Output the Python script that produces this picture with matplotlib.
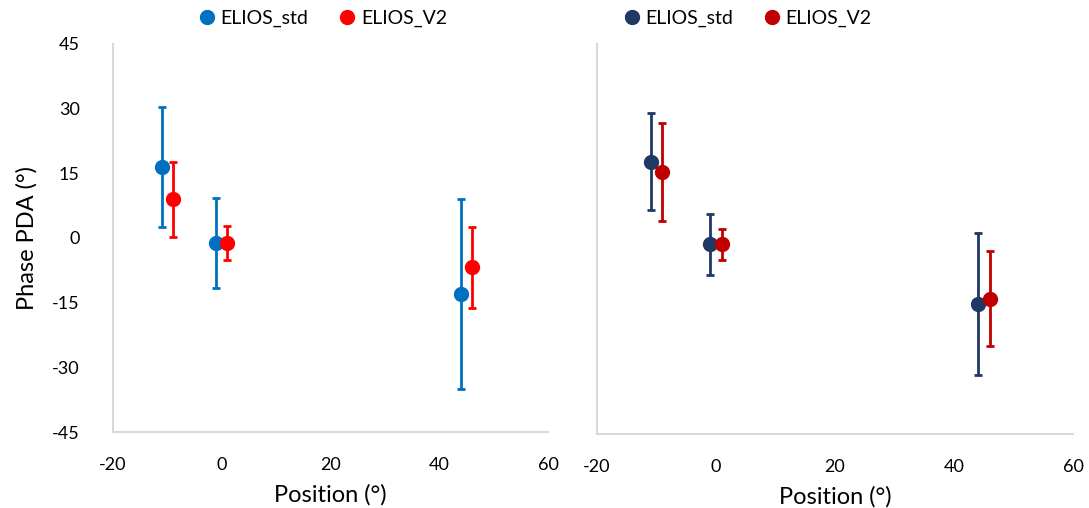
import matplotlib
matplotlib.use("Agg")
import matplotlib.pyplot as plt
from matplotlib.lines import Line2D

plt.rcParams['font.family'] = ['Lato', 'DejaVu Sans']
plt.rcParams['axes.unicode_minus'] = False

# Left panel data
left_std_x = [-11, -1, 44]
left_std_y = [16.5, -1.2, -13.0]
left_std_err = [14.0, 10.5, 22.0]
left_v2_x = [-9, 1, 46]
left_v2_y = [9.0, -1.2, -6.8]
left_v2_err = [8.7, 3.9, 9.4]

# Right panel data
right_std_x = [-11, -1, 44]
right_std_y = [17.8, -1.2, -15.0]
right_std_err = [11.2, 7.0, 16.3]
right_v2_x = [-9, 1, 46]
right_v2_y = [15.4, -1.2, -13.8]
right_v2_err = [11.3, 3.6, 11.0]

series_names = ["ELIOS_std", "ELIOS_V2"]
left_colors = ["#0070C0", "#FF0000"]
right_colors = ["#203864", "#C00000"]

x_ticks = [-20, 0, 20, 40, 60]
y_ticks = [-45, -30, -15, 0, 15, 30, 45]

fig = plt.figure(figsize=(10.89, 5.08), dpi=100)
axL = fig.add_axes([0.1038, 0.1496, 0.3994, 0.7638])
axR = fig.add_axes([0.5482, 0.1457, 0.4371, 0.7677])

def draw(ax, data, colors):
    for (x, y, e), c in zip(data, colors):
        ax.errorbar(x, y, yerr=e, fmt='o', color=c, ecolor=c, markersize=10,
                    elinewidth=2, capsize=3, capthick=2, zorder=3)
    ax.set_xlim(-20, 60)
    ax.set_ylim(-45, 45)
    ax.set_xticks(x_ticks)
    ax.set_yticks(y_ticks)
    for s in ['top', 'right']:
        ax.spines[s].set_visible(False)
    for s in ['left', 'bottom']:
        ax.spines[s].set_color('#D9D9D9')
        ax.spines[s].set_linewidth(1.5)
    ax.tick_params(length=0, labelsize=13, colors='#000000')
    ax.tick_params(axis='x', pad=18)
    ax.tick_params(axis='y', pad=24)
    ax.set_xlabel("Position (°)", fontsize=17, labelpad=8)
    handles = [Line2D([], [], marker='o', linestyle='none', color=c, markersize=10)
               for c in colors]
    return handles

hL = draw(axL, [(left_std_x, left_std_y, left_std_err),
                (left_v2_x, left_v2_y, left_v2_err)], left_colors)
hR = draw(axR, [(right_std_x, right_std_y, right_std_err),
                (right_v2_x, right_v2_y, right_v2_err)], right_colors)

axL.set_ylabel("Phase PDA (°)", fontsize=17, labelpad=10)
axR.set_yticklabels([])

leg_kw = dict(loc='center', ncol=2, frameon=False, fontsize=14,
              handlelength=0.8, handletextpad=0.3, columnspacing=1.6)
axL.legend(hL, series_names, bbox_to_anchor=(0.483, 1.065), **leg_kw)
axR.legend(hR, series_names, bbox_to_anchor=(0.317, 1.065), **leg_kw)

fig.savefig("out.png", dpi=100)
